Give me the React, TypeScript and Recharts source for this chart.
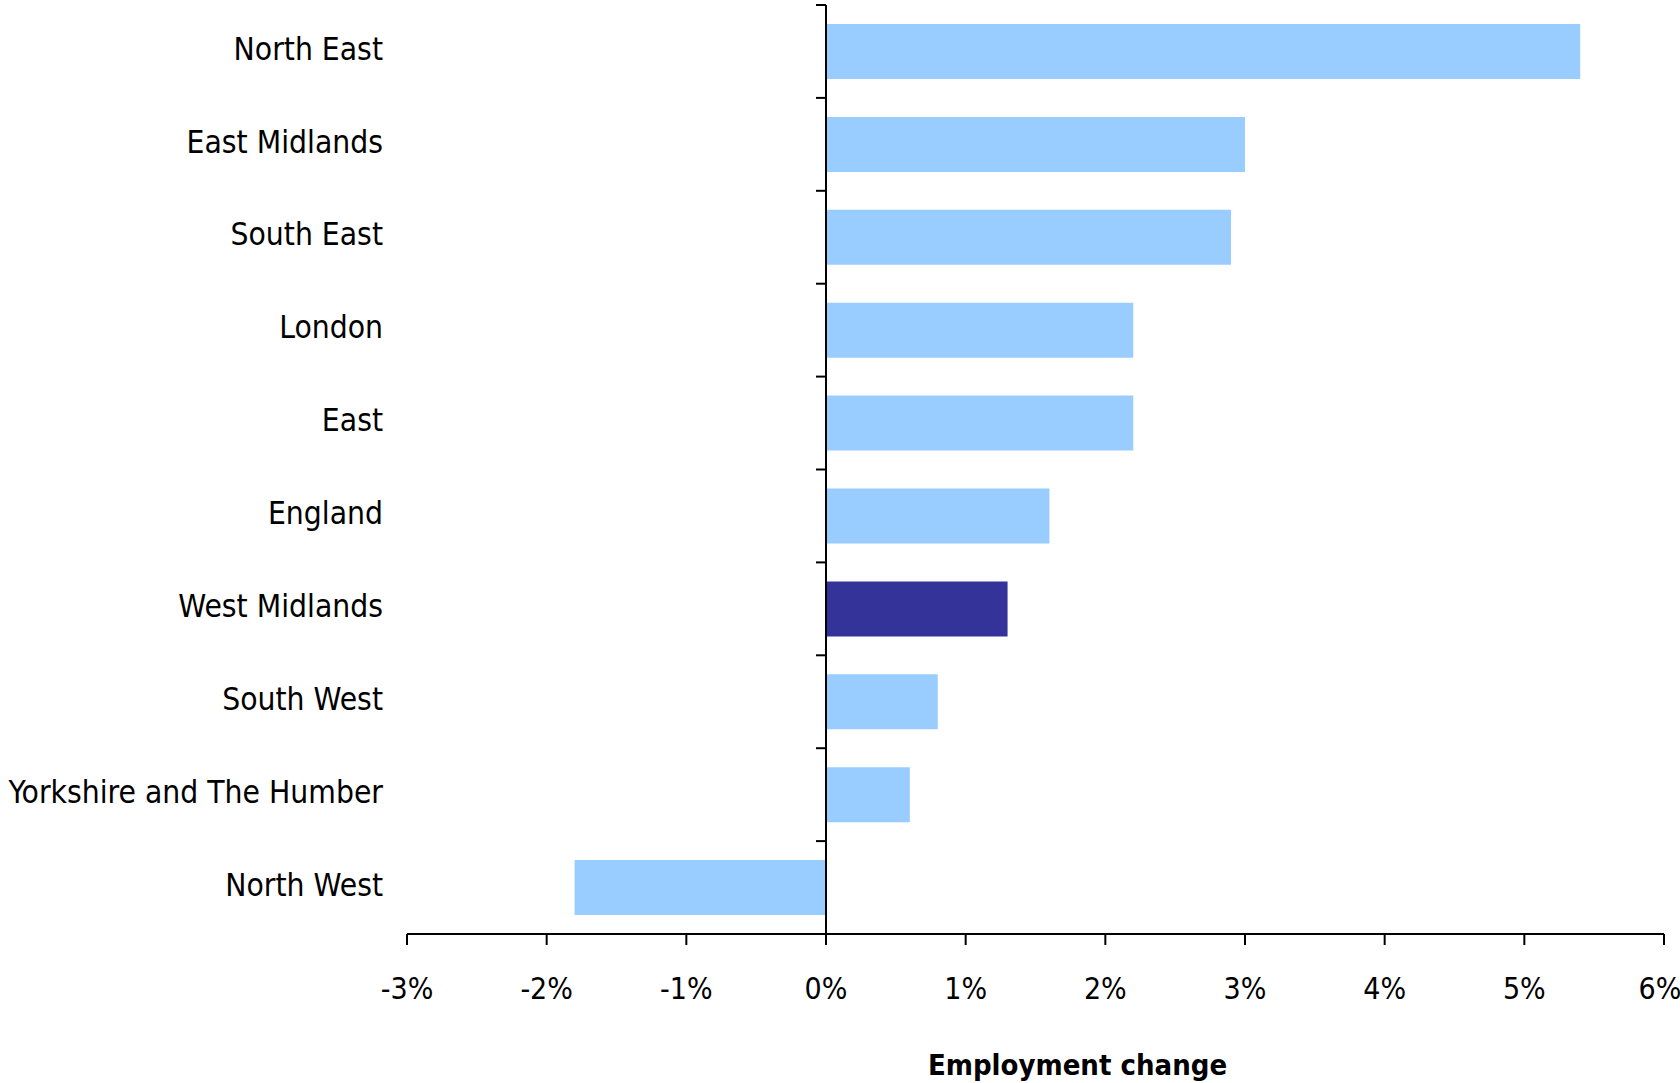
import React from "react";
import {
  BarChart,
  Bar,
  XAxis,
  YAxis,
  ReferenceLine,
  Cell,
} from "recharts";

const regions = [
  "North East",
  "East Midlands",
  "South East",
  "London",
  "East",
  "England",
  "West Midlands",
  "South West",
  "Yorkshire and The Humber",
  "North West",
];
const changes = [5.4, 3.0, 2.9, 2.2, 2.2, 1.6, 1.3, 0.8, 0.6, -1.8];
const highlighted = "West Midlands";
const xTicks = [-3, -2, -1, 0, 1, 2, 3, 4, 5, 6];

const data = regions.map((name, i) => ({ name, value: changes[i] }));

const FONT = "'DejaVu Sans Condensed', 'DejaVu Sans', sans-serif";
const LIGHT = "#99ccff";
const DARK = "#333399";

// zero line with the category boundary ticks on its left
const ZeroAxis = (props: any) => {
  const { x1 } = props;
  const top = Math.min(props.y1, props.y2);
  const bottom = Math.max(props.y1, props.y2);
  const step = (bottom - top) / regions.length;
  const marks = [...regions, "end"];
  return (
    <g>
      <line x1={x1} y1={top} x2={x1} y2={bottom} stroke="#000" strokeWidth={2} />
      {marks.map((r, i) => (
        <line
          key={r}
          x1={x1 - 10}
          x2={x1}
          y1={top + i * step}
          y2={top + i * step}
          stroke="#000"
          strokeWidth={2}
        />
      ))}
    </g>
  );
};

const AxisTitle = (props: any) => {
  const { viewBox } = props;
  return (
    <text
      x={viewBox.x + viewBox.width / 2 + 42}
      y={1075}
      textAnchor="middle"
      fontFamily={FONT}
      fontWeight="bold"
      fontSize={29}
      fill="#000"
    >
      Employment change
    </text>
  );
};

export default function App() {
  return (
    <div style={{ position: "absolute", left: 0, top: 0, background: "#fff" }}>
      <BarChart
        width={1680}
        height={1083}
        data={data}
        layout="vertical"
        margin={{ top: 5, right: 16, left: 0, bottom: 0 }}
      >
        <XAxis
          type="number"
          domain={[-3, 6]}
          ticks={xTicks}
          tickFormatter={(v) => `${v}%`}
          height={149}
          stroke="#000"
          strokeWidth={2}
          tickSize={11}
          tickMargin={33}
          tick={{ fill: "#000", fontSize: 30, fontFamily: FONT }}
          label={<AxisTitle />}
        />
        <YAxis
          type="category"
          dataKey="name"
          width={407}
          axisLine={false}
          tickLine={false}
          tickSize={0}
          tickMargin={24}
          interval={0}
          tick={{ fill: "#000", fontSize: 31.5, fontFamily: FONT, dy: -3 }}
        />
        <Bar dataKey="value" barSize={55} isAnimationActive={false}>
          {data.map((d) => (
            <Cell key={d.name} fill={d.name === highlighted ? DARK : LIGHT} />
          ))}
        </Bar>
        <ReferenceLine x={0} shape={<ZeroAxis />} />
      </BarChart>
    </div>
  );
}
